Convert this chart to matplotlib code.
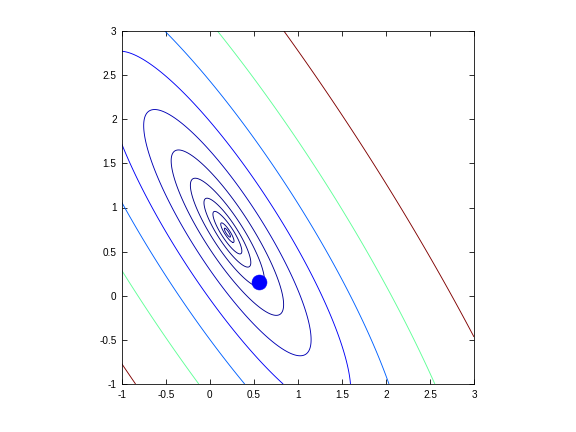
import numpy as np
import matplotlib
matplotlib.use('Agg')
import matplotlib.pyplot as plt
from matplotlib.colors import Normalize

# quadratic bowl: f = a*dx^2 + 2*b*dx*dy + c*dy^2
center_x, center_y = 0.2, 0.715
quad_a, quad_b, quad_c = 1.0, 0.592, 0.464
levels = [0.0003, 0.0014, 0.0066, 0.0173, 0.0432, 0.0997, 0.221, 0.48, 1.005, 2.13, 4.57]
point_x, point_y = 0.564, 0.155
ticks = [-1, -0.5, 0, 0.5, 1, 1.5, 2, 2.5, 3]
tick_labels = ['-1', '-0.5', '0', '0.5', '1', '1.5', '2', '2.5', '3']

plt.rcParams['font.family'] = ['Liberation Sans', 'DejaVu Sans']
plt.rcParams['axes.unicode_minus'] = False

fig = plt.figure(figsize=(8, 6), dpi=72)
ax = fig.add_axes([121.7 / 576, 1 - 384 / 432, (474 - 121.7) / 576, (384 - 31) / 432])

xs = np.linspace(-1, 3, 801)
ys = np.linspace(-1, 3, 801)
X, Y = np.meshgrid(xs, ys)
DX, DY = X - center_x, Y - center_y
Z = quad_a * DX**2 + 2 * quad_b * DX * DY + quad_c * DY**2

ax.contour(X, Y, Z, levels=levels, cmap='jet', norm=Normalize(vmin=0, vmax=max(levels)),
           linewidths=0.9)
ax.plot([point_x], [point_y], 'o', color=(0, 0, 1), markersize=15, markeredgewidth=0.5)

ax.set_xlim(-1, 3)
ax.set_ylim(-1, 3)
ax.set_xticks(ticks)
ax.set_xticklabels(tick_labels)
ax.set_yticks(ticks)
ax.set_yticklabels(tick_labels)
ax.tick_params(direction='in', length=5, width=0.8, top=True, right=True, labelsize=10,
               colors='black')
ax.tick_params(axis='x', pad=6)
ax.tick_params(axis='y', pad=5)
for s in ax.spines.values():
    s.set_linewidth(0.8)

fig.savefig('out.png', dpi=72)
